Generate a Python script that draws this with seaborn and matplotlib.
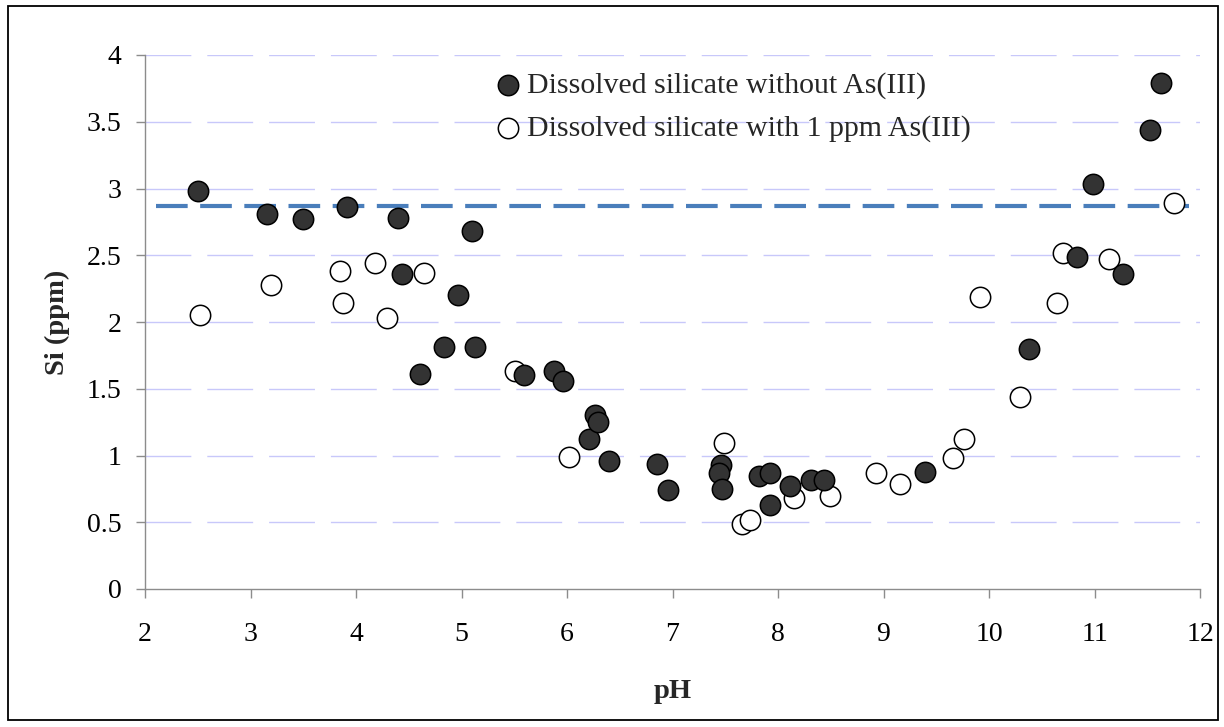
import matplotlib
matplotlib.use("Agg")
import matplotlib.pyplot as plt
import seaborn as sns
import pandas as pd
from matplotlib.patches import Rectangle

# ---- data ----
ph_without = [2.50, 3.16, 3.50, 3.91, 4.40, 5.10, 4.44, 4.97, 4.61, 4.83, 5.13, 5.59,
              5.88, 5.96, 6.21, 6.27, 6.29, 6.40, 6.85, 6.96, 7.46, 7.44, 7.47, 7.82,
              7.92, 7.92, 8.11, 8.31, 8.44, 9.39, 10.38, 10.83, 10.99, 11.27, 11.53, 11.63]
si_without = [2.98, 2.81, 2.77, 2.86, 2.78, 2.68, 2.36, 2.20, 1.61, 1.81, 1.81, 1.60,
              1.63, 1.56, 1.12, 1.30, 1.25, 0.96, 0.94, 0.74, 0.93, 0.87, 0.75, 0.85,
              0.87, 0.63, 0.77, 0.82, 0.82, 0.88, 1.80, 2.49, 3.03, 2.36, 3.44, 3.79]

ph_with = [2.52, 3.19, 3.85, 3.88, 4.18, 4.29, 4.64, 5.51, 6.02, 7.49, 7.66, 7.73,
           8.15, 8.49, 8.93, 9.16, 9.66, 9.76, 9.91, 10.29, 10.64, 10.70, 11.14, 11.75]
si_with = [2.05, 2.28, 2.38, 2.14, 2.44, 2.03, 2.37, 1.63, 0.99, 1.09, 0.49, 0.52,
           0.68, 0.70, 0.87, 0.79, 0.98, 1.12, 2.19, 1.44, 2.14, 2.52, 2.47, 2.89]

ref_x = [2.1, 11.9]
ref_y = [2.87, 2.87]

label_without = "Dissolved silicate without As(III)"
label_with = "Dissolved silicate with 1 ppm As(III)"
x_ticks = [2, 3, 4, 5, 6, 7, 8, 9, 10, 11, 12]
y_ticks = [0, 0.5, 1, 1.5, 2, 2.5, 3, 3.5, 4]
y_ticklabels = ["0", "0.5", "1", "1.5", "2", "2.5", "3", "3.5", "4"]

df_without = pd.DataFrame({"pH": ph_without, "Si": si_without})
df_with = pd.DataFrame({"pH": ph_with, "Si": si_with})
df_ref = pd.DataFrame({"pH": ref_x, "Si": ref_y})

# ---- style ----
sns.set_style("white")
plt.rcParams["font.family"] = ["Liberation Serif", "DejaVu Serif"]

fig = plt.figure(figsize=(12.24, 7.27), dpi=100)
ax = fig.add_axes([145 / 1224, 1 - 589 / 727, (1200 - 145) / 1224, (589 - 55) / 727])

# gridlines
for yv in y_ticks[1:]:
    ax.axhline(yv, color="#c8c8fa", lw=1.0, linestyle=(0, (33, 11.5)), zorder=0)

sns.lineplot(data=df_ref, x="pH", y="Si", ax=ax, color="#4a7ebb", lw=3.0,
             linestyle=(0, (7.6, 3.0)), zorder=2)

ms = 215
sns.scatterplot(data=df_with, x="pH", y="Si", ax=ax, s=ms, color="white",
                edgecolor="black", linewidth=1.1, label=label_with, zorder=3)
sns.scatterplot(data=df_without, x="pH", y="Si", ax=ax, s=ms, color="#333333",
                edgecolor="black", linewidth=1.1, label=label_without, zorder=4)

ax.set_xlim(2, 12)
ax.set_ylim(0, 4)
ax.set_xticks(x_ticks)
ax.set_yticks(y_ticks)
ax.set_yticklabels(y_ticklabels)

for side in ["top", "right"]:
    ax.spines[side].set_visible(False)
for side in ["left", "bottom"]:
    ax.spines[side].set_color("#8c8c8c")
    ax.spines[side].set_linewidth(1.0)
ax.spines["left"].set_zorder(5)

ax.tick_params(axis="both", direction="out", length=6.5, width=1.0, color="#8c8c8c",
               labelsize=20, labelcolor="black")
ax.tick_params(axis="x", pad=17, bottom=True)
ax.tick_params(axis="y", pad=10.5, left=True)

ax.set_xlabel("pH", fontsize=20.5, fontweight="bold", labelpad=23)
ax.set_ylabel("Si (ppm)", fontsize=20.5, fontweight="bold", labelpad=12)

handles, labels = ax.get_legend_handles_labels()
order = [labels.index(label_without), labels.index(label_with)]
leg = ax.legend([handles[i] for i in order], [labels[i] for i in order],
                loc="upper left", bbox_to_anchor=(0.3186, 0.991), frameon=False,
                fontsize=21.5, handletextpad=0.15, labelspacing=0.52, borderaxespad=0.0,
                handlelength=1.0)

fig.add_artist(Rectangle((8 / 1224, 1 - 720 / 727), 1210 / 1224, 714 / 727,
                         transform=fig.transFigure, fill=False, ec="black", lw=1.3))

fig.savefig("out.png", dpi=100)
